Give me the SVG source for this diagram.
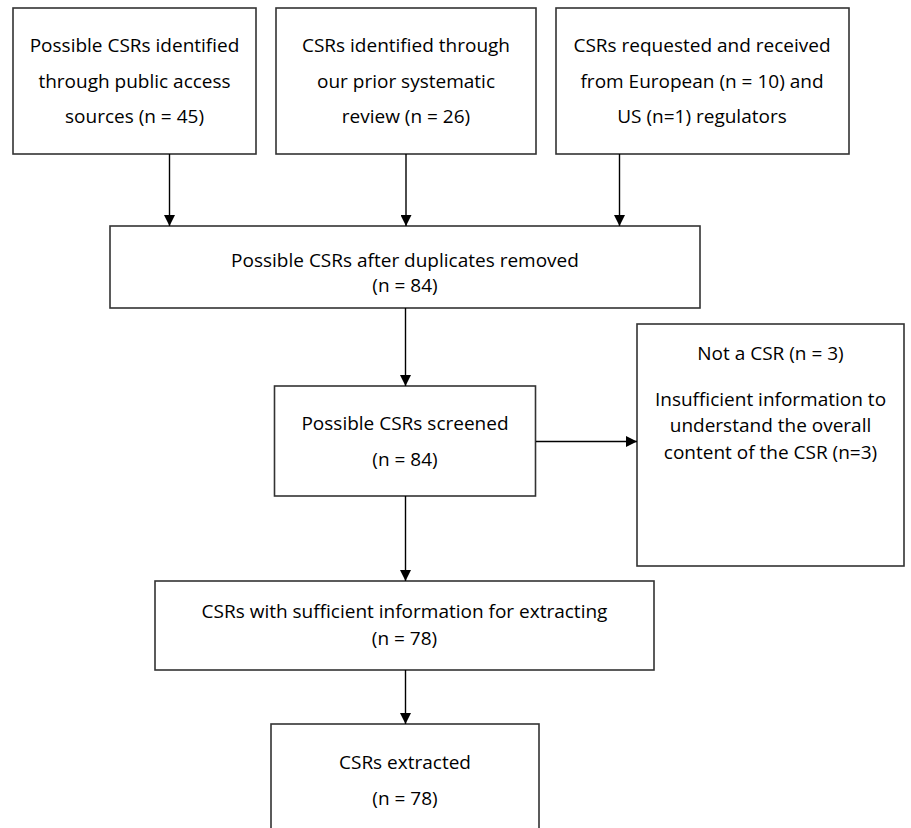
<svg xmlns="http://www.w3.org/2000/svg" width="911" height="828" viewBox="0 0 911 828">
<defs>
<style>
.box{fill:#fff;stroke:#333;stroke-width:1.6}
.t{font-family:"Open Sans","Liberation Sans",sans-serif;font-size:19px;fill:#000;text-anchor:middle}
.c{stroke:#000;stroke-width:1.4;fill:none;marker-end:url(#ah)}
</style>
<marker id="ah" markerWidth="11" markerHeight="11" refX="11" refY="5.5" orient="auto" markerUnits="userSpaceOnUse">
<path d="M0,0 L11,5.5 L0,11 Z" fill="#000"/>
</marker>
</defs>
<rect width="911" height="828" fill="#fff"/>
<g id="n1">
<rect class="box" x="13" y="8" width="243" height="146"/>
<text class="t" x="134.5" y="52">Possible CSRs identified</text>
<text class="t" x="134.5" y="87.5">through public access</text>
<text class="t" x="134.5" y="123">sources (n = 45)</text>
</g>
<g id="n2">
<rect class="box" x="276" y="8" width="260" height="146"/>
<text class="t" x="406" y="52">CSRs identified through</text>
<text class="t" x="406" y="87.5">our prior systematic</text>
<text class="t" x="406" y="123">review (n = 26)</text>
</g>
<g id="n3">
<rect class="box" x="556" y="8" width="293" height="146"/>
<text class="t" x="702" y="52">CSRs requested and received</text>
<text class="t" x="702" y="87.5">from European (n = 10) and</text>
<text class="t" x="702" y="123">US (n=1) regulators</text>
</g>
<g id="n4">
<rect class="box" x="110" y="226" width="590" height="82"/>
<text class="t" x="405" y="267">Possible CSRs after duplicates removed</text>
<text class="t" x="405" y="292">(n = 84)</text>
</g>
<g id="n5">
<rect class="box" x="274.5" y="386" width="261" height="110"/>
<text class="t" x="405" y="430">Possible CSRs screened</text>
<text class="t" x="405" y="466">(n = 84)</text>
</g>
<g id="n6">
<rect class="box" x="637" y="324" width="267" height="242"/>
<text class="t" x="770.5" y="360">Not a CSR (n = 3)</text>
<text class="t" x="770.5" y="406">Insufficient information to</text>
<text class="t" x="770.5" y="432">understand the overall</text>
<text class="t" x="770.5" y="458.5">content of the CSR (n=3)</text>
</g>
<g id="n7">
<rect class="box" x="155" y="581" width="499" height="89"/>
<text class="t" x="404.5" y="618">CSRs with sufficient information for extracting</text>
<text class="t" x="404.5" y="645">(n = 78)</text>
</g>
<g id="n8">
<rect class="box" x="271" y="724" width="268" height="120"/>
<text class="t" x="405" y="769">CSRs extracted</text>
<text class="t" x="405" y="805">(n = 78)</text>
</g>
<g id="connectors">
<line class="c" x1="169.5" y1="154" x2="169.5" y2="226"/>
<line class="c" x1="406" y1="154" x2="406" y2="226"/>
<line class="c" x1="619.5" y1="154" x2="619.5" y2="226"/>
<line class="c" x1="405.5" y1="308" x2="405.5" y2="386"/>
<line class="c" x1="536" y1="441.5" x2="637" y2="441.5"/>
<line class="c" x1="405.5" y1="496" x2="405.5" y2="581"/>
<line class="c" x1="405.5" y1="670" x2="405.5" y2="724"/>
</g>
</svg>
